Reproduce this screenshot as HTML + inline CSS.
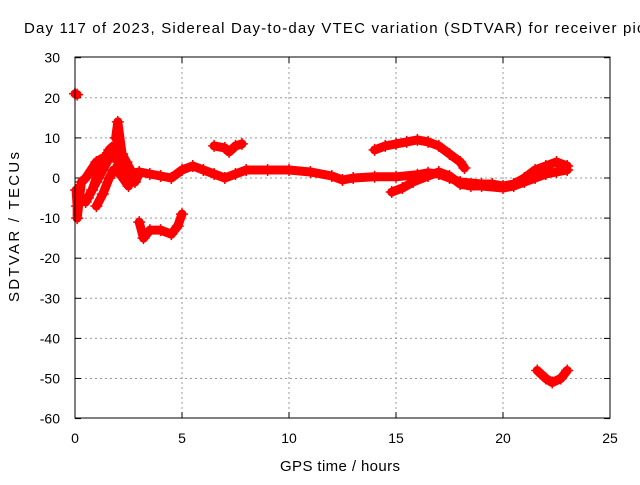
<!DOCTYPE html>
<html><head><meta charset="utf-8"><style>
body{margin:0;background:#fff}
svg text{font-family:"Liberation Sans",sans-serif;font-size:14px;fill:#000}
</style></head><body>
<svg id="chart" width="640" height="480" xmlns="http://www.w3.org/2000/svg">
<rect width="640" height="480" fill="#fff"/>
<text x="24" y="33" style="font-size:15px" textLength="625" lengthAdjust="spacing">Day 117 of 2023, Sidereal Day-to-day VTEC variation (SDTVAR) for receiver picl</text>
<g id="grid"></g><g id="axes"></g><g id="marks"></g>
<rect x="75" y="57" width="535" height="361" fill="none" stroke="#000"/>
<text x="280" y="471" style="font-size:15px" textLength="120" lengthAdjust="spacing">GPS time / hours</text>
<text x="19" y="302" style="font-size:15px" textLength="150" lengthAdjust="spacing" transform="rotate(-90 19 302)">SDTVAR / TECUs</text>
</svg>
<script>
const xTicks=[0,5,10,15,20,25];
const yTicks=[30,20,10,0,-10,-20,-30,-40,-50,-60];
const mainBand=[[2.5,1],[3,1.5],[3.5,1],[4,0.5],[4.5,0],[5,2],[5.5,3],[6,2],[6.5,1],[7,0],[7.5,1],[8,2],[9,2],[10,2],[11,1.5],[12,0.5],[12.5,-0.5],[13,0],[14,0.3],[15,0.3],[16,0.8],[16.5,1.3],[17,1],[17.5,0],[18,-1],[19,-1.5],[19.5,-1.5],[20,-2],[20.5,-1.5],[21,0],[21.5,2],[22,3],[22.5,4],[23,3]];
const upperArc=[[14,7],[14.5,8],[15,8.5],[15.5,9],[16,9.5],[16.5,9],[17,8],[17.5,6],[18,4],[18.2,2.5]];
const lowerBranch=[[14.8,-3.5],[15.3,-2.5],[15.8,-1],[16.5,0.5],[17,1.5],[17.5,0.5],[18,-1.5],[18.5,-2],[19,-2],[20,-2.5],[20.5,-2],[21,-1],[21.5,0],[22,1],[22.5,1.5],[23,2]];
const morningBump=[[6.5,8],[7,7.5],[7.2,6.5],[7.5,8],[7.8,8.5]];
const dipGroup=[[3,-11],[3.2,-15],[3.5,-13],[4,-13],[4.5,-14],[4.8,-12],[5,-9]];
const earlyA=[[0.5,-6],[0.8,-3],[1.2,3],[1.6,7],[1.8,8],[2,4],[2.3,0]];
const earlyB=[[1,-7],[1.3,-4],[1.6,0],[1.8,2],[2.1,1],[2.5,-2]];
const earlyC=[[1.9,10],[2,14],[2.2,6],[2.4,4],[2.6,2],[2.8,-1],[3,1]];
const earlyD=[[0.05,-3],[0.1,-7],[0.1,-10],[0.3,-1],[0.5,0],[1,4],[1.3,5]];
const earlyE=[[0.6,-5],[1,-1],[1.3,2],[1.6,5],[1.9,6],[2.2,2],[2.6,1]];
const isolated=[[0,21],[0.1,20.8]];
const lateDip=[[21.6,-48],[22,-50],[22.3,-51],[22.7,-50],[23,-48]];
const X=h=>75+h*21.4, Y=v=>178-v*4.01;
const NS='http://www.w3.org/2000/svg';
const grid=document.getElementById('grid'),axes=document.getElementById('axes'),marks=document.getElementById('marks');
function mk(t,a,p){const e=document.createElementNS(NS,t);for(const k in a)e.setAttribute(k,a[k]);p.appendChild(e);return e;}
xTicks.forEach(t=>{const x=X(t);
 if(t>0&&t<25){const g=mk('line',{x1:x,x2:x,y1:57,y2:418,stroke:'#999','stroke-dasharray':'2,3'},grid);
 
 }
 mk('line',{x1:x,x2:x,y1:418,y2:412,stroke:'#000'},axes);mk('line',{x1:x,x2:x,y1:57,y2:63,stroke:'#000'},axes);
 const l=mk('text',{x:x,y:443,'text-anchor':'middle'},axes);l.textContent=t;
 
 });
yTicks.forEach(t=>{const y=Y(t);
 if(t<30&&t>-60){const g=mk('line',{x1:75,x2:610,y1:y,y2:y,stroke:'#999','stroke-dasharray':'2,3'},grid);
 
 }
 mk('line',{x1:75,x2:81,y1:y,y2:y,stroke:'#000'},axes);mk('line',{x1:610,x2:604,y1:y,y2:y,stroke:'#000'},axes);
 const l=mk('text',{x:60,y:y+5,'text-anchor':'end'},axes);l.textContent=t;
 
 });
const series={mainBand,upperArc,lowerBranch,morningBump,dipGroup,earlyA,earlyB,earlyC,earlyD,earlyE,isolated,lateDip};
for(const name in series){const d=series[name];
 const g=mk('g',{},marks);
 
 
 mk('polyline',{points:d.map(p=>X(p[0])+','+Y(p[1])).join(' '),fill:'none',stroke:'#f00','stroke-width':9,'stroke-linejoin':'round','stroke-linecap':'round'},g);
 d.forEach(p=>{const x=X(p[0]),y=Y(p[1]);
  const m=mk('path',{d:`M${x-6} ${y}h12M${x} ${y-6}v12`,stroke:'#f00','stroke-width':1.5},g);
  
  });}
</script>
</body></html>
